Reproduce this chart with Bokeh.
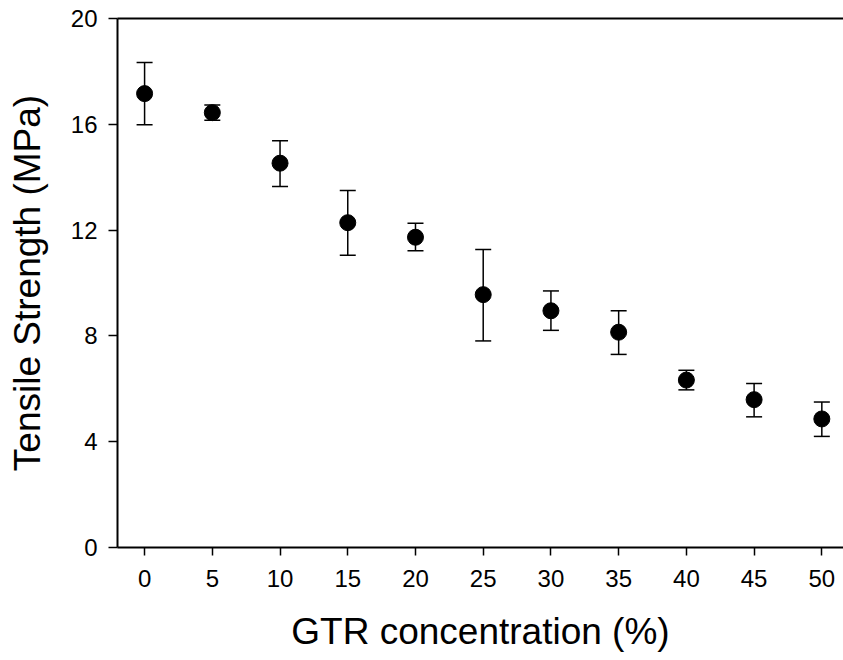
from bokeh.plotting import figure
from bokeh.models import ColumnDataSource, Whisker, TeeHead, LinearAxis, Range1d, FixedTicker
from bokeh.embed import file_html
from bokeh.resources import INLINE

gtr = [0, 5, 10, 15, 20, 25, 30, 35, 40, 45, 50]
strength = [17.16, 16.44, 14.53, 12.28, 11.73, 9.56, 8.95, 8.14, 6.33, 5.59, 4.86]
upper = [18.34, 16.73, 15.38, 13.50, 12.26, 11.27, 9.70, 8.95, 6.70, 6.20, 5.50]
lower = [15.98, 16.15, 13.65, 11.05, 11.22, 7.81, 8.21, 7.30, 5.96, 4.94, 4.20]
x_ticks = [0, 5, 10, 15, 20, 25, 30, 35, 40, 45, 50]
y_ticks = [0, 4, 8, 12, 16, 20]

src = ColumnDataSource(dict(x=gtr, y=strength, upper=upper, lower=lower))

FONT = "Liberation Sans"

p = figure(width=843, height=660, output_backend="svg", toolbar_location=None,
           x_range=Range1d(-2, 51.6), y_range=Range1d(0, 20),
           min_border_left=117, min_border_right=0, min_border_top=18, min_border_bottom=113,
           outline_line_color=None, background_fill_color="white", border_fill_color="white")
p.grid.visible = False

w = Whisker(source=src, base="x", upper="upper", lower="lower",
            line_color="black", line_width=1.5,
            upper_head=TeeHead(size=16, line_color="black", line_width=1.5),
            lower_head=TeeHead(size=16, line_color="black", line_width=1.5))
p.add_layout(w)
p.scatter("x", "y", source=src, size=16, color="black")

for ax, ticks in ((p.xaxis[0], x_ticks), (p.yaxis[0], y_ticks)):
    ax.ticker = FixedTicker(ticks=ticks)
    ax.minor_tick_line_color = None
    ax.major_tick_in = 0
    ax.major_tick_line_width = 1.5
    ax.major_tick_line_color = "black"
    ax.axis_line_width = 2
    ax.axis_line_color = "black"
    ax.major_label_text_font = FONT
    ax.major_label_text_font_size = "24px"
    ax.major_label_text_color = "black"
    ax.axis_label_text_font = FONT
    ax.axis_label_text_font_size = "37px"
    ax.axis_label_text_font_style = "normal"
    ax.axis_label_text_color = "black"

p.xaxis[0].major_tick_out = 8
p.xaxis[0].major_label_standoff = 14
p.xaxis[0].axis_label = "GTR concentration (%)"
p.xaxis[0].axis_label_standoff = 21
p.yaxis[0].major_tick_out = 9
p.yaxis[0].major_label_standoff = 11
p.yaxis[0].axis_label = "Tensile Strength (MPa)"
p.yaxis[0].axis_label_standoff = 20

top = LinearAxis(ticker=FixedTicker(ticks=[]), major_label_text_font_size="0px",
                 major_tick_out=0, major_tick_in=0, minor_tick_out=0, minor_tick_in=0,
                 axis_line_width=2, axis_line_color="black")
p.add_layout(top, "above")

open("out.html", "w").write(file_html(p, INLINE))
